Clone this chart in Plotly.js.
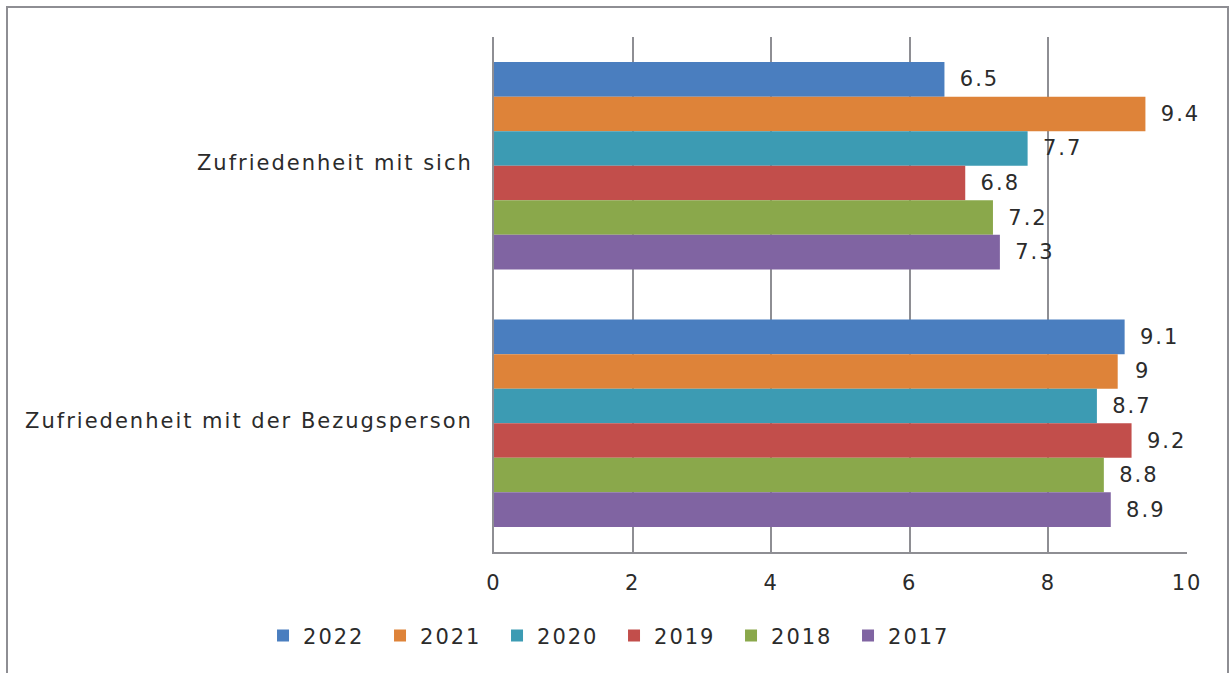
<!DOCTYPE html>
<html>
<head>
<meta charset="utf-8">
<script src="https://cdn.plot.ly/plotly-3.0.1.min.js"></script>
<style>
html,body{margin:0;padding:0;background:#fff;}
#wrap{position:relative;width:1231px;height:673px;overflow:hidden;}
#chart{position:absolute;left:0;top:0;width:1231px;height:673px;}
#chart text{letter-spacing:2px;}
#frame{position:absolute;left:6px;top:6px;width:1219px;height:700px;border:2px solid #8e8e93;border-bottom:none;pointer-events:none;}
</style>
</head>
<body>
<div id="wrap">
<div id="chart"></div>
<div id="frame"></div>
</div>
<script>
const categories = ["Zufriedenheit mit sich", "Zufriedenheit mit der Bezugsperson"];
const years = ["2022", "2021", "2020", "2019", "2018", "2017"];
const v2022 = [6.5, 9.1];
const v2021 = [9.4, 9];
const v2020 = [7.7, 8.7];
const v2019 = [6.8, 9.2];
const v2018 = [7.2, 8.8];
const v2017 = [7.3, 8.9];
const seriesValues = [v2022, v2021, v2020, v2019, v2018, v2017];
const colors = ["#4a7ebf", "#de8339", "#3c9bb3", "#c24e4b", "#8aa84b", "#8064a2"];

const FONT = "'DejaVu Sans', sans-serif";
const TXT = "#2b2b2b";
const FS = 21;

const traces = years.map((yr, i) => ({
  type: "bar",
  orientation: "h",
  name: yr,
  y: categories,
  x: seriesValues[i],
  marker: {color: colors[i], line: {width: 0}},
  text: seriesValues[i].map(v => "\u00a0\u00a0" + v),
  textposition: "outside",
  textfont: {family: FONT, size: FS, color: TXT},
  cliponaxis: false,
  constraintext: "none",
  hoverinfo: "x+name"
}));

const layout = {
  width: 1231, height: 673,
  margin: {l: 494, r: 44, t: 37, b: 121},
  paper_bgcolor: "#fff", plot_bgcolor: "#fff",
  font: {family: FONT, size: FS, color: TXT},
  barmode: "group",
  bargap: 0.195,
  bargroupgap: 0,
  xaxis: {
    range: [0, 10], tickvals: [0, 2, 4, 6, 8, 10], ticktext: ["0","2","4","6","8","10"],
    showgrid: true, gridcolor: "#8e8e93", gridwidth: 2,
    showline: true, linecolor: "#8e8e93", linewidth: 2,
    zeroline: false, ticks: "", ticklabelstandoff: 11,
    tickfont: {family: FONT, size: FS, color: TXT}, fixedrange: true
  },
  yaxis: {
    type: "category", autorange: "reversed",
    showgrid: false, showline: true, linecolor: "#8e8e93", linewidth: 2,
    ticks: "", ticklabelstandoff: 15, ticklabelshift: 3,
    tickfont: {family: FONT, size: FS, color: TXT}, fixedrange: true
  },
  showlegend: true,
  legend: {
    orientation: "h", xref: "paper", yref: "paper",
    x: -0.3333, xanchor: "left", y: -0.163, yanchor: "middle",
    font: {family: FONT, size: FS, color: TXT},
    entrywidth: 72, entrywidthmode: "pixels",
    itemwidth: 30, traceorder: "normal"
  }
};

Plotly.newPlot("chart", traces, layout, {displayModeBar: false, staticPlot: true});
</script>
</body>
</html>
